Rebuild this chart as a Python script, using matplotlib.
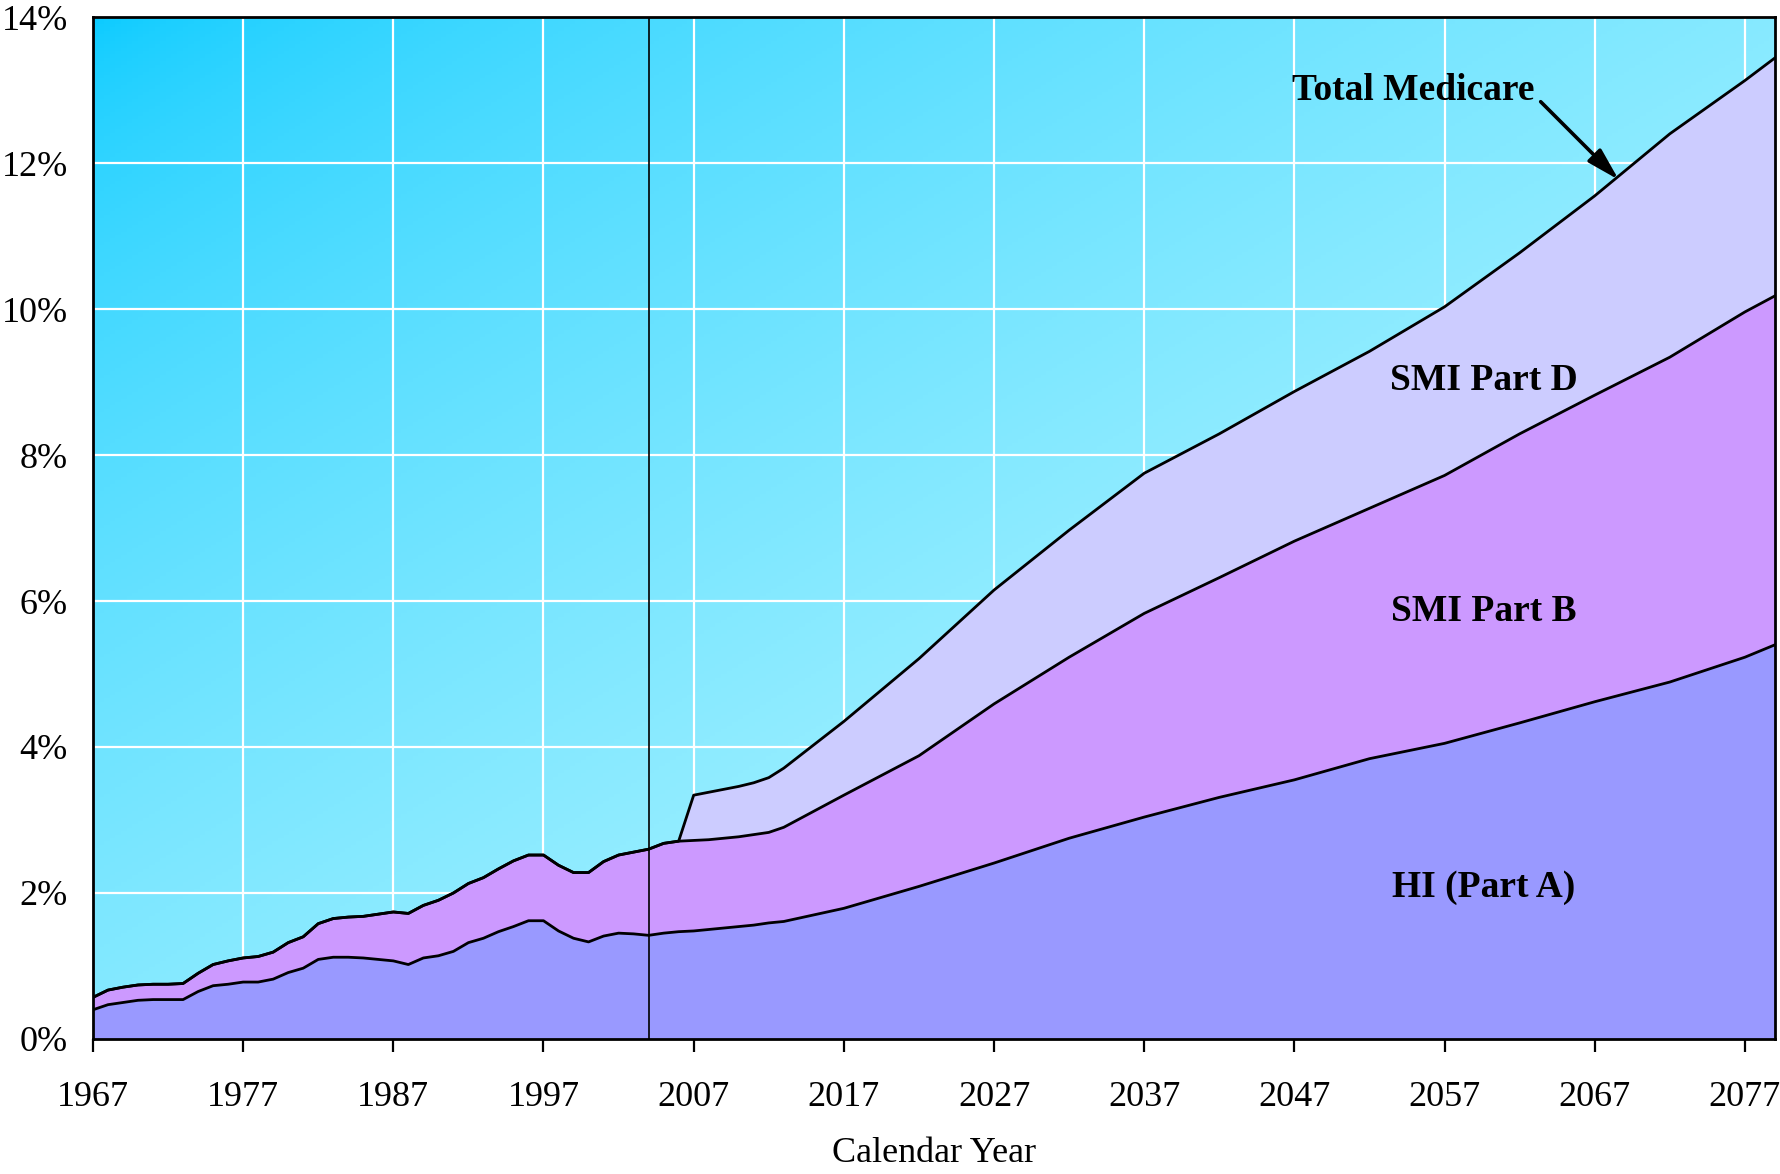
import numpy as np
import matplotlib
matplotlib.use("Agg")
import matplotlib.pyplot as plt

plt.rcParams['font.family'] = ['Liberation Serif', 'DejaVu Serif']

# calendar years (historical annual, projections sparser)
years = [1967, 1968, 1969, 1970, 1971, 1972, 1973, 1974, 1975, 1976,
         1977, 1978, 1979, 1980, 1981, 1982, 1983, 1984, 1985, 1986,
         1987, 1988, 1989, 1990, 1991, 1992, 1993, 1994, 1995, 1996,
         1997, 1998, 1999, 2000, 2001, 2002, 2003, 2004, 2005, 2006,
         2007, 2008, 2009, 2010, 2011, 2012, 2013, 2017, 2022, 2027,
         2032, 2037, 2042, 2047, 2052, 2057, 2062, 2067, 2072, 2077, 2079]

# percent of GDP
hi_part_a = [0.40, 0.47, 0.50, 0.53, 0.54, 0.54, 0.54, 0.65, 0.73, 0.75,
             0.78, 0.78, 0.82, 0.91, 0.97, 1.09, 1.12, 1.12, 1.11, 1.09,
             1.07, 1.02, 1.11, 1.14, 1.20, 1.32, 1.38, 1.47, 1.54, 1.62,
             1.62, 1.48, 1.38, 1.33, 1.41, 1.45, 1.44, 1.42, 1.45, 1.47,
             1.48, 1.50, 1.52, 1.54, 1.56, 1.59, 1.61, 1.79, 2.09, 2.41,
             2.75, 3.04, 3.31, 3.55, 3.84, 4.05, 4.33, 4.62, 4.89, 5.23, 5.40]

smi_part_b = [0.17, 0.20, 0.21, 0.21, 0.21, 0.21, 0.22, 0.25, 0.29, 0.32,
              0.33, 0.35, 0.37, 0.41, 0.43, 0.49, 0.53, 0.55, 0.57, 0.62,
              0.67, 0.70, 0.72, 0.76, 0.80, 0.81, 0.83, 0.86, 0.90, 0.90,
              0.90, 0.90, 0.90, 0.95, 1.02, 1.07, 1.12, 1.18, 1.23, 1.24,
              1.24, 1.23, 1.23, 1.23, 1.24, 1.24, 1.29, 1.55, 1.79, 2.18,
              2.48, 2.79, 3.01, 3.27, 3.43, 3.67, 3.96, 4.20, 4.45, 4.73, 4.78]

smi_part_d = [0.0] * 40 + [
              0.62, 0.65, 0.67, 0.69, 0.71, 0.75, 0.81, 1.01, 1.33, 1.56,
              1.74, 1.92, 1.97, 2.05, 2.15, 2.31, 2.48, 2.73, 3.06, 3.17, 3.26]

tick_years = [1967, 1977, 1987, 1997, 2007, 2017, 2027, 2037, 2047, 2057, 2067, 2077]
pct_ticks = [0, 2, 4, 6, 8, 10, 12, 14]
last_hist_year = 2004


def main():
    x = np.array(years, dtype=float)
    a = np.array(hi_part_a)
    b = a + np.array(smi_part_b)
    d = b + np.array(smi_part_d)

    fig = plt.figure(figsize=(17.81, 11.74), dpi=100)
    ax = fig.add_axes([0.0522, 0.115, 0.9444, 0.8705])
    x0, x1 = 1967, 2079
    ax.set_xlim(x0, x1)
    ax.set_ylim(0, 14)

    # diagonal gradient background, dark cyan top-left -> pale bottom-right
    n = 300
    gi, gj = np.mgrid[0:n, 0:n] / (n - 1)
    t = ((gi + gj) / 2) ** 0.6
    c0 = np.array([8, 202, 255]) / 255
    c1 = np.array([200, 250, 255]) / 255
    grad = c0[None, None, :] * (1 - t[..., None]) + c1[None, None, :] * t[..., None]
    ax.imshow(grad, extent=[x0, x1, 0, 14], aspect='auto', origin='upper', zorder=0)

    ax.set_axisbelow(True)
    ax.grid(True, color='white', linewidth=1.6)

    ax.fill_between(x, 0, a, color='#9999FF', zorder=2, linewidth=0)
    ax.fill_between(x, a, b, color='#CC99FF', zorder=2, linewidth=0)
    ax.fill_between(x, b, d, color='#CCCCFF', zorder=2, linewidth=0)
    for y in (a, b, d):
        ax.plot(x, y, color='black', linewidth=2.0, zorder=3, solid_joinstyle='round')

    ax.axvline(last_hist_year, color='black', linewidth=1.2, zorder=4)

    ax.set_xticks(tick_years)
    ax.set_yticks(pct_ticks)
    ax.set_yticklabels([f"{p}%" for p in pct_ticks])
    ax.tick_params(axis='x', direction='out', length=9, width=1.6, pad=21, labelsize=26)
    ax.tick_params(axis='y', length=0, pad=18, labelsize=26)
    for s in ax.spines.values():
        s.set_linewidth(2)
        s.set_color('black')
        s.set_zorder(5)

    ax.set_xlabel("Calendar Year", fontsize=26, labelpad=17)

    lbl = dict(fontsize=27, fontweight='bold', ha='center', va='center', zorder=6)
    ax.text(2059.6, 9.02, "SMI Part D", **lbl)
    ax.text(2059.6, 5.86, "SMI Part B", **lbl)
    ax.text(2059.6, 2.07, "HI (Part A)", **lbl)
    ax.text(2054.9, 13.0, "Total Medicare", **lbl)
    ax.annotate("", xy=(2068.6, 11.77), xytext=(2063.4, 12.84), zorder=6,
                arrowprops=dict(arrowstyle='-|>,head_length=0.9,head_width=0.25',
                                color='black', lw=2.6, mutation_scale=22,
                                shrinkA=0, shrinkB=0))

    fig.savefig("out.png", dpi=100)
    plt.close(fig)


if __name__ == "__main__":
    main()
